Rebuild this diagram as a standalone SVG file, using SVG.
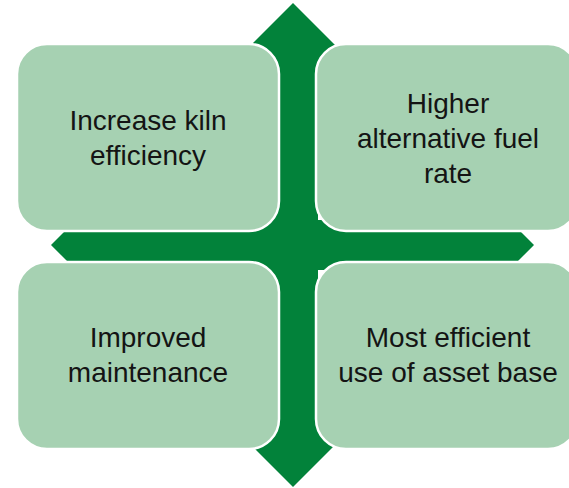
<svg xmlns="http://www.w3.org/2000/svg" width="569" height="488" viewBox="0 0 569 488">
  <style>
    .box { fill: #A6D1B2; stroke: #FFFFFF; stroke-width: 2.5; }
    .label { font-family: "Liberation Sans", Arial, sans-serif; font-size: 28px; fill: #141414; text-anchor: middle; }
    .cross { fill: #02823A; }
  </style>
  <rect width="569" height="488" fill="#FFFFFF"/>

  <!-- four-way arrow behind the quadrants -->
  <g id="quad-arrow">
    <polygon class="cross" points="293,3 353,63 318,63 318,220 474,220 474,185 534,245 474,305 474,270 318,270 318,427 353,427 293,487 233,427 268,427 268,270 111,270 111,305 51,245 111,185 111,220 268,220 268,63 233,63"/>
  </g>

  <g id="node-kiln">
    <rect class="box" x="17" y="44" width="262" height="187" rx="30" ry="30"/>
    <text class="label"><tspan x="148" y="130">Increase kiln</tspan><tspan x="148" y="165">efficiency</tspan></text>
  </g>

  <g id="node-fuel">
    <rect class="box" x="316" y="44" width="262" height="187" rx="30" ry="30"/>
    <text class="label"><tspan x="448" y="112.5">Higher</tspan><tspan x="448" y="147.5">alternative fuel</tspan><tspan x="448" y="182.5">rate</tspan></text>
  </g>

  <g id="node-maintenance">
    <rect class="box" x="17" y="262" width="262" height="187" rx="30" ry="30"/>
    <text class="label"><tspan x="148" y="347">Improved</tspan><tspan x="148" y="382">maintenance</tspan></text>
  </g>

  <g id="node-assets">
    <rect class="box" x="316" y="262" width="262" height="187" rx="30" ry="30"/>
    <text class="label"><tspan x="448" y="347">Most efficient</tspan><tspan x="448" y="382">use of asset base</tspan></text>
  </g>
</svg>
